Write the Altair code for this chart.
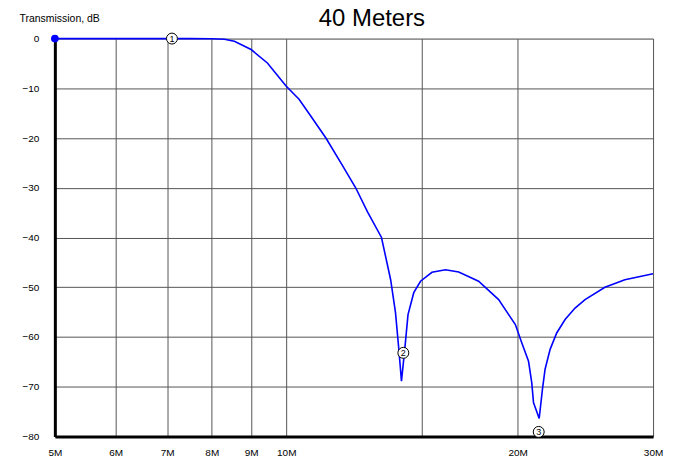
import altair as alt
import pandas as pd

# Curve: frequency (MHz) vs transmission (dB)
freq = [5.0, 6.0, 7.0, 7.5, 8.0, 8.31, 8.56, 9.0, 9.45, 10.0, 10.39, 10.71, 11.26, 11.83,
        12.31, 12.75, 13.3, 13.67, 13.87, 14.01, 14.12, 14.26, 14.40, 14.65, 14.95,
        15.47, 16.11, 16.76, 17.79, 18.89, 19.86, 20.25, 20.66, 20.86, 20.97, 21.33,
        21.54, 21.71, 22.04, 22.48, 23.05, 23.75, 24.47, 25.97, 27.57, 30.0]
db = [0.0, 0.0, 0.0, 0.0, -0.02, -0.14, -0.54, -2.2, -4.9, -9.6, -12.2, -15.1, -20.0, -25.5,
      -30.0, -34.8, -40.0, -48.5, -55.1, -62.5, -68.9, -62.5, -55.5, -51.1, -48.8,
      -47.0, -46.5, -46.95, -48.8, -52.5, -57.5, -61.2, -64.9, -69.2, -73.2, -76.4,
      -70.5, -66.5, -62.5, -59.2, -56.5, -54.2, -52.5, -50.0, -48.5, -47.3]

# Markers
marker_freq = [7.10, 14.20, 21.30]
marker_db = [0.0, -63.2, -79.1]
marker_label = ["1", "2", "3"]

start_freq = [5.0]
start_db = [0.0]

x_ticks = [5, 6, 7, 8, 9, 10, 15, 20, 30]
y_ticks = [0, -10, -20, -30, -40, -50, -60, -70, -80]

title_text = ["40 Meters"]

curve_df = pd.DataFrame({"f": freq, "db": db})
marker_df = pd.DataFrame({"f": marker_freq, "db": marker_db, "label": marker_label})
start_df = pd.DataFrame({"f": start_freq, "db": start_db})
title_df = pd.DataFrame({"t": title_text})

FONT = "Liberation Sans"

xscale = alt.Scale(type="log", domain=[5, 30], nice=False, zero=False)
yscale = alt.Scale(domain=[-80, 0], nice=False, zero=False)

xaxis = alt.Axis(values=x_ticks, labelExpr="datum.value == 15 ? '' : datum.value + 'M'",
                 grid=True, gridColor="#555555", gridWidth=1, gridOpacity=1,
                 ticks=False, labelPadding=11, labelFontSize=10, labelFont=FONT,
                 labelColor="black", domain=True, domainColor="black", domainWidth=3,
                 title=None, labelFlush=False, labelOverlap=False)
yaxis = alt.Axis(values=y_ticks, grid=True, gridColor="#555555", gridWidth=1, gridOpacity=1,
                 ticks=False, labelPadding=16, labelFontSize=10, labelFont=FONT,
                 labelColor="black", domain=True, domainColor="black", domainWidth=3,
                 title="Transmission, dB", titleAngle=0, titleAlign="left",
                 titleBaseline="alphabetic", titleX=-36, titleY=-17,
                 titleFontSize=10.5, titleFont=FONT, titleFontWeight="normal",
                 titleColor="black", labelFlush=False, labelOverlap=False)

x = alt.X("f:Q", scale=xscale, axis=xaxis)
y = alt.Y("db:Q", scale=yscale, axis=yaxis)

curve = alt.Chart(curve_df).mark_line(color="#0000ff", strokeWidth=1.6).encode(x=x, y=y)

start = alt.Chart(start_df).mark_circle(color="#0000ff", size=60, opacity=1).encode(
    x="f:Q", y="db:Q")

mcircle = alt.Chart(marker_df).mark_point(shape="circle", filled=True, fill="white",
                                          stroke="black", strokeWidth=1, size=120,
                                          opacity=1).encode(x="f:Q", y="db:Q")
mtext = alt.Chart(marker_df).mark_text(font=FONT, fontSize=9, color="black",
                                       baseline="middle", align="center", dy=0.5).encode(
    x="f:Q", y="db:Q", text="label:N")

title = alt.Chart(title_df).mark_text(font=FONT, fontSize=24, color="black",
                                      align="center", baseline="alphabetic").encode(
    x=alt.value(318), y=alt.value(-13), text="t:N")

chart = alt.layer(curve, start, mcircle, mtext, title).properties(
    width=600, height=399,
    autosize=alt.AutoSizeParams(type="none"),
    padding={"left": 47, "top": 30, "right": 20, "bottom": 20},
).configure_view(stroke="black", strokeWidth=2).configure(background="white")

chart.save("out.html", embed_options={"renderer": "svg", "actions": False})
